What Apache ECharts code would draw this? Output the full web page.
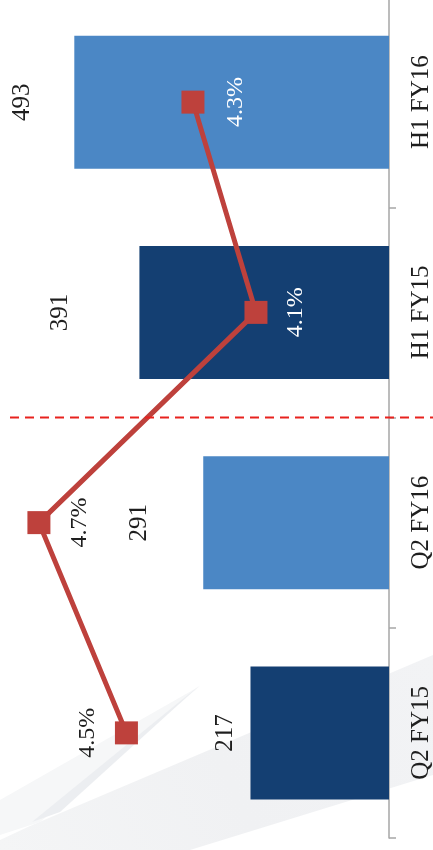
<!DOCTYPE html>
<html>
<head>
<meta charset="utf-8">
<style>
  html, body { margin: 0; padding: 0; background: #ffffff; }
  #chart { width: 433px; height: 850px; }
</style>
<script src="https://cdn.jsdelivr.net/npm/echarts@6/dist/echarts.min.js"></script>
</head>
<body>
<div id="chart"></div>
<script>
// ---- data ----
const categories = ['Q2 FY15', 'Q2 FY16', 'H1 FY15', 'H1 FY16'];
const barValues = [217, 291, 391, 493];
// margin % (labels shown rounded to one decimal: 4.5%, 4.7%, 4.1%, 4.3%)
const marginValues = [4.49, 4.74, 4.12, 4.30];

// ---- styles ----
const barColors = ['#143F72', '#4B87C5', '#143F72', '#4B87C5'];
const barLabelGap = [25, 64, 79, 52];
const lineLabelSide = ['left', 'right', 'right', 'right'];
const lineLabelGap = [27, 29, 28, 31];
const lineLabelColor = ['#1e1e1e', '#1e1e1e', '#ffffff', '#ffffff'];
const FONT = '"Liberation Serif", "Times New Roman", serif';

const chart = echarts.init(document.getElementById('chart'), null, { renderer: 'canvas' });

const barData = barValues.map((v, i) => ({
  value: v,
  itemStyle: { color: barColors[i] },
  label: { distance: barLabelGap[i] }
}));

const lineData = marginValues.map((v, i) => ({
  value: v,
  label: { position: lineLabelSide[i], distance: lineLabelGap[i], color: lineLabelColor[i] }
}));

chart.setOption({
  backgroundColor: '#ffffff',
  animation: false,
  grid: { left: 6, right: 44, top: -3, bottom: 12, containLabel: false, outerBoundsMode: 'none' },
  xAxis: [
    { type: 'value', inverse: true, min: 0, max: 600, show: false },
    { type: 'value', inverse: true, min: 3.74, max: 4.834, show: false }
  ],
  yAxis: {
    type: 'category',
    data: categories,
    position: 'right',
    axisLine: { show: true, lineStyle: { color: '#a6a6a6', width: 1.5 } },
    axisTick: { show: true, length: 7, inside: false, lineStyle: { color: '#a6a6a6', width: 1.5 } },
    axisLabel: {
      rotate: 90,
      margin: 20,
      fontFamily: FONT,
      fontSize: 25,
      color: '#1e1e1e'
    },
    splitLine: { show: false }
  },
  series: [
    {
      type: 'bar',
      xAxisIndex: 0,
      data: barData,
      barWidth: 133,
      z: 2,
      label: {
        show: true,
        position: 'left',
        rotate: 90,
        align: 'center',
        verticalAlign: 'middle',
        fontFamily: FONT,
        fontSize: 25,
        color: '#1e1e1e'
      }
    },
    {
      type: 'line',
      xAxisIndex: 1,
      data: lineData,
      symbol: 'rect',
      symbolSize: 23,
      z: 5,
      itemStyle: { color: '#BE413C' },
      lineStyle: { color: '#BE413C', width: 5 },
      label: {
        show: true,
        rotate: 90,
        align: 'center',
        verticalAlign: 'middle',
        fontFamily: FONT,
        fontSize: 24,
        formatter: p => p.value.toFixed(1) + '%'
      }
    }
  ]
});

// dashed separator between quarter and half-year groups, derived from the axis
const yA = chart.convertToPixel({ yAxisIndex: 0 }, categories[1]);
const yB = chart.convertToPixel({ yAxisIndex: 0 }, categories[2]);
const ySep = (yA + yB) / 2;

chart.setOption({
  graphic: [
    {
      type: 'polygon', z: -10, silent: true,
      shape: { points: [[0, 840], [30, 826], [433, 655], [433, 775], [190, 850], [0, 850]] },
      style: {
        fill: new echarts.graphic.LinearGradient(0, 1, 1, 0, [
          { offset: 0, color: '#f4f5f6' },
          { offset: 0.5, color: '#f0f1f3' },
          { offset: 1, color: '#f2f3f5' }
        ])
      }
    },
    {
      type: 'polygon', z: -9, silent: true,
      shape: { points: [[0, 800], [200, 686], [40, 822], [0, 835]] },
      style: { fill: '#f6f7f8' }
    },
    {
      type: 'polygon', z: -8, silent: true,
      shape: { points: [[32, 822], [200, 685], [60, 812]] },
      style: { fill: '#eceef1' }
    },
    {
      type: 'line', z: 100, silent: true,
      shape: { x1: 10, y1: ySep, x2: 433, y2: ySep },
      style: { stroke: '#E8221E', lineWidth: 2, lineDash: [9, 6] }
    }
  ]
});
</script>
</body>
</html>
